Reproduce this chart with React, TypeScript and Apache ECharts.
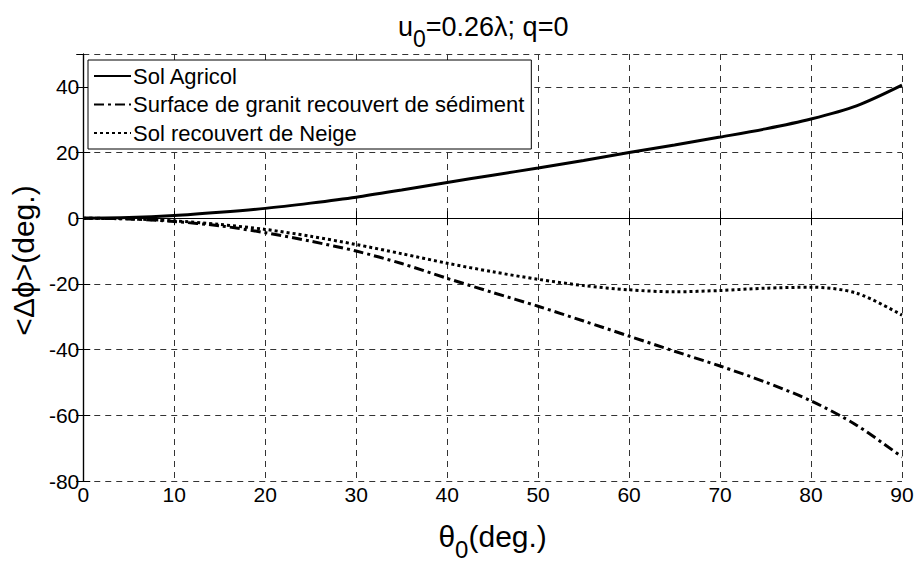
import React, { useEffect, useRef } from "react";
import * as echarts from "echarts";

const theta = [0, 5, 10, 15, 20, 25, 30, 35, 40, 45, 50, 55, 60, 65, 70, 75, 80, 85, 90];
const solAgricol = [0, 0.2, 0.8, 1.8, 3.0, 4.6, 6.4, 8.6, 10.9, 13.1, 15.3, 17.6, 20.0, 22.3, 24.7, 27.2, 30.2, 34.2, 40.5];
const granit = [0, -0.2, -1.0, -2.3, -4.4, -7.0, -10.0, -13.8, -18.3, -22.6, -26.8, -31.3, -35.9, -40.5, -45.0, -49.9, -55.6, -63.0, -72.7];
const neige = [0, -0.2, -0.8, -1.9, -3.4, -5.5, -8.0, -10.8, -13.7, -16.3, -18.6, -20.5, -21.8, -22.4, -22.0, -21.3, -21.0, -22.8, -29.5];
const seriesNames = ["Sol Agricol", "Surface de granit recouvert de sédiment", "Sol recouvert de Neige"];
const xTicks = { min: 0, max: 90, interval: 10 };
const yTicks = { min: -80, max: 50, interval: 20 };

const FONT = "Liberation Sans, Arial, Helvetica, sans-serif";

export default function App() {
  const ref = useRef<HTMLDivElement>(null);
  useEffect(() => {
    if (!ref.current) return;
    const chart = echarts.init(ref.current, undefined, { renderer: "svg" });
    const pair = (ys: number[]) => theta.map((x, i) => [x, ys[i]]);
    const mk = (name: string, ys: number[], type: any) => ({
      name,
      type: "line",
      data: pair(ys),
      smooth: 0.3,
      symbol: "none",
      lineStyle: { color: "#000", width: 3, type },
      itemStyle: { color: "#000" },
    });
    chart.setOption({
      animation: false,
      backgroundColor: "#fff",
      textStyle: { fontFamily: FONT },
      title: {
        text: "{a|u}{s|0}{a|=0.26λ; q=0}",
        left: 398,
        top: 3,
        padding: 0,
        textStyle: {
          fontWeight: "normal",
          rich: {
            a: { fontSize: 27, fontFamily: FONT, color: "#000", fontWeight: "normal" },
            s: { fontSize: 23, fontFamily: FONT, color: "#000", fontWeight: "normal", padding: [24, 0, 0, 0] },
          },
        },
      },
      legend: {
        orient: "vertical",
        left: 88,
        top: 60,
        padding: [5, 7, 5, 5],
        itemGap: 6.5,
        itemWidth: 37,
        itemHeight: 14,
        backgroundColor: "#fff",
        borderColor: "#000",
        borderWidth: 1,
        borderRadius: 0,
        selectedMode: false,
        itemStyle: { opacity: 0 },
        textStyle: { fontSize: 22, fontFamily: FONT, color: "#000", lineHeight: 22, padding: [0, 0, 0, -3] },
        data: seriesNames,
      },
      grid: { left: 82, right: 15, top: 54, bottom: 75, containLabel: false },
      xAxis: [
        {
          type: "value",
          ...xTicks,
          name: "{a|θ}{s|0}{a|(deg.)}",
          nameLocation: "middle",
          nameGap: 30,
          nameTextStyle: {
            rich: {
              a: { fontSize: 30, fontFamily: FONT, color: "#000" },
              s: { fontSize: 24, fontFamily: FONT, color: "#000", padding: [26, 0, 0, 0] },
            },
          },
          axisLine: { lineStyle: { color: "#000", width: 1.2 } },
          axisTick: { inside: true, length: 7, lineStyle: { color: "#000" } },
          axisLabel: { fontSize: 21, color: "#000", margin: 3, fontFamily: FONT },
          splitLine: { show: true, lineStyle: { color: "#333", type: [6, 5], width: 1 } },
        },
        {
          type: "value",
          position: "top",
          ...xTicks,
          axisLine: { show: true, lineStyle: { color: "#000", width: 1.2 } },
          axisTick: { show: true, inside: true, length: 7, lineStyle: { color: "#000" } },
          axisLabel: { show: false },
          splitLine: { show: false },
        },
      ],
      yAxis: [
        {
          type: "value",
          ...yTicks,
          name: "<Δϕ>(deg.)",
          nameLocation: "middle",
          nameGap: 44,
          nameTextStyle: { fontSize: 30, fontFamily: FONT, color: "#000", padding: [0, 0, 0, 14] },
          axisLine: { show: true, lineStyle: { color: "#000", width: 1.2 } },
          axisTick: { show: true, inside: true, length: 7, lineStyle: { color: "#000" } },
          axisLabel: {
            fontSize: 21,
            color: "#000",
            margin: 4,
            fontFamily: FONT,
            showMaxLabel: false,
            formatter: (v: number) => (v > 40 ? "" : String(v)),
          },
          splitLine: { show: true, lineStyle: { color: "#333", type: [6, 5], width: 1 } },
        },
        {
          type: "value",
          position: "right",
          ...yTicks,
          axisLine: { show: true, lineStyle: { color: "#000", width: 1.2 } },
          axisTick: { show: true, inside: true, length: 7, lineStyle: { color: "#000" } },
          axisLabel: { show: false },
          splitLine: { show: false },
        },
      ],
      series: [
        mk(seriesNames[0], solAgricol, "solid"),
        mk(seriesNames[1], granit, [10, 4, 3, 4]),
        mk(seriesNames[2], neige, [3, 3]),
      ],
    });
    return () => chart.dispose();
  }, []);
  return (
    <div
      ref={ref}
      style={{ position: "fixed", left: 0, top: 0, width: 917, height: 566, background: "#fff" }}
    />
  );
}
